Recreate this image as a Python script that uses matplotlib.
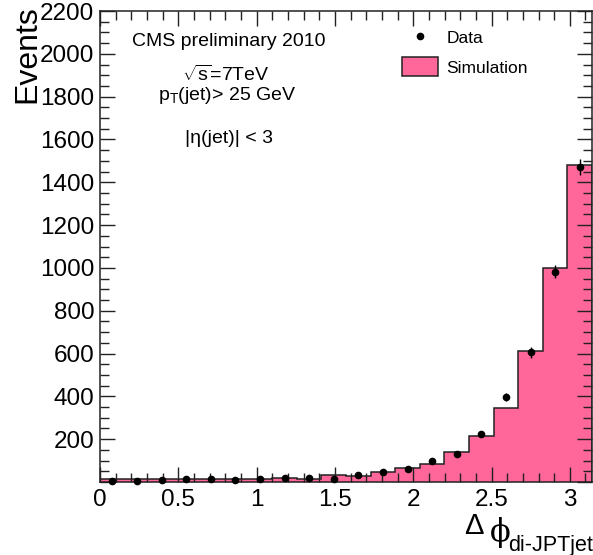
import numpy as np
import matplotlib
matplotlib.use("Agg")
import matplotlib.pyplot as plt
from matplotlib.ticker import MultipleLocator
from matplotlib.lines import Line2D
from matplotlib.patches import Patch

# ข้อมูลที่อ่านจากกราฟ (20 bins ของ delta phi จาก 0 ถึง pi)
n_bins = 20
phi_range = (0.0, np.pi)

data_counts = [6, 5, 9, 12, 12, 9, 15, 18, 20, 12,
               32, 45, 60, 100, 132, 225, 398, 606, 982, 1470]
data_err = [2.5, 2.2, 3, 3.5, 3.5, 3, 4, 4.2, 4.5, 3.5,
            5.7, 6.7, 7.7, 10, 11.5, 15, 20, 24.6, 31.3, 38.3]
sim_counts = [14, 12, 12, 14, 15, 13, 15, 21, 12, 32,
              27, 45, 67, 85, 142, 216, 347, 610, 1000, 1479]

y_ticks = [0, 200, 400, 600, 800, 1000, 1200, 1400, 1600, 1800, 2000, 2200]
x_ticks = [0, 0.5, 1, 1.5, 2, 2.5, 3]
x_ticklabels = ["0", "0.5", "1", "1.5", "2", "2.5", "3"]

plt.rcParams["font.family"] = ["Liberation Sans", "DejaVu Sans"]
plt.rcParams["mathtext.fontset"] = "custom"
plt.rcParams["mathtext.rm"] = "Liberation Sans"
plt.rcParams["mathtext.it"] = "Liberation Sans:italic"
plt.rcParams["mathtext.bf"] = "Liberation Sans:bold"

W, H = 593, 555


def px(x, y):
    # แปลงพิกัด pixel เป็นสัดส่วนของ figure
    return x / W, 1 - y / H


edges = np.linspace(phi_range[0], phi_range[1], n_bins + 1)
centers = 0.5 * (edges[:-1] + edges[1:])

fig = plt.figure(figsize=(W / 100, H / 100), dpi=100)
ax = fig.add_axes([100 / W, 1 - 482 / H, 492 / W, 471 / H])

# histogram ของ simulation
ax.stairs(sim_counts, edges, fill=True, color="#ff6699", linewidth=0)
ax.stairs(sim_counts, edges, baseline=0, color="#222222", linewidth=1.1)

# จุดข้อมูล
ax.errorbar(centers, data_counts, yerr=data_err, fmt="o", color="black",
            markersize=4.5, elinewidth=1.0, capsize=0, clip_on=False, zorder=5)

ax.set_xlim(phi_range)
ax.set_ylim(0, 2200)

ax.set_xticks(x_ticks)
ax.set_xticklabels(x_ticklabels)
ax.set_yticks(y_ticks)
ax.set_yticklabels([""] + [str(v) for v in y_ticks[1:]])
ax.xaxis.set_minor_locator(MultipleLocator(0.1))
ax.yaxis.set_minor_locator(MultipleLocator(50))

ax.tick_params(which="both", direction="in", top=True, right=True,
               labelsize=17.5, width=1.0, color="#222222")
ax.tick_params(which="major", length=11)
ax.tick_params(which="minor", length=6.5)
ax.tick_params(axis="x", pad=5)
ax.tick_params(axis="y", pad=4)
for s in ax.spines.values():
    s.set_linewidth(1.1)
    s.set_color("#222222")

# ชื่อแกน
fig.text(*px(27, 5), "Events", rotation=90, ha="center", va="top", fontsize=23)
fig.text(*px(464, 534), r"$\mathregular{\Delta}$", fontsize=21,
         va="baseline", ha="left")
fig.text(*px(500, 541), "\u03d5", family=["DejaVu Serif"],
         fontsize=22, va="baseline", ha="center")
fig.text(*px(508, 551), "di-JPTjet", fontsize=15.5, va="baseline", ha="left")

# ข้อความอธิบาย
fig.text(*px(229, 46.5), "CMS preliminary 2010", fontsize=14, ha="center", va="baseline")
fig.text(*px(226, 81), r"$\sqrt{\mathregular{s}}$=7TeV", fontsize=14, ha="center", va="baseline")
fig.text(*px(227, 100), r"p$_{\mathregular{T}}$(jet)> 25 GeV", fontsize=14,
         ha="center", va="baseline")
fig.text(*px(229, 143), "|η(jet)| < 3", fontsize=14, ha="center", va="baseline")

# legend
handles = [
    Line2D([], [], marker="o", color="black", linestyle="none", markersize=4.5),
    Patch(facecolor="#ff6699", edgecolor="#222222", linewidth=1.1),
]
ax.legend(handles, ["Data", "Simulation"], loc="upper left",
          bbox_to_anchor=((402 - 100) / 492, (482 - 28) / 471),
          frameon=False, fontsize=12.5, borderpad=0, borderaxespad=0,
          handlelength=2.1, handleheight=1.3, handletextpad=0.46,
          labelspacing=0.6)

fig.savefig("out.png", dpi=100)
